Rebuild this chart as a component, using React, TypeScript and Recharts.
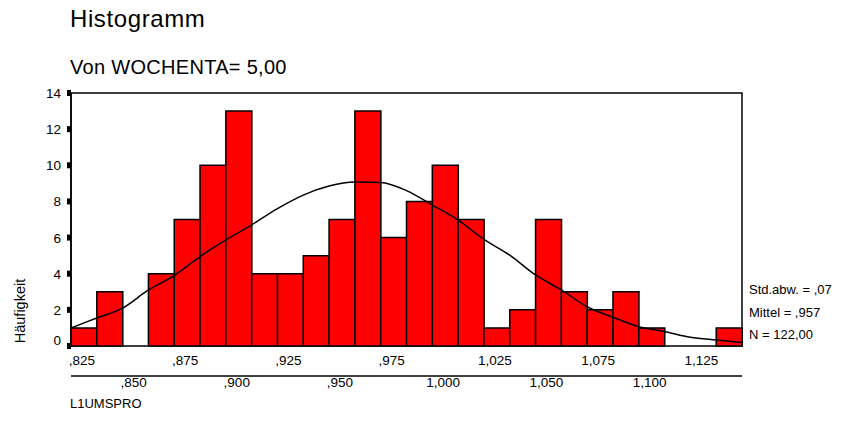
import React from "react";
import {
  ComposedChart, Bar, Line, XAxis, YAxis, ReferenceArea,
} from "recharts";

// histogram bins (centres) and counts
const binCenters = [
  0.825, 0.8375, 0.85, 0.8625, 0.875, 0.8875, 0.9, 0.9125, 0.925, 0.9375,
  0.95, 0.9625, 0.975, 0.9875, 1.0, 1.0125, 1.025, 1.0375, 1.05, 1.0625,
  1.075, 1.0875, 1.1, 1.1125, 1.125, 1.1375,
];
const counts = [
  1, 3, 0, 4, 7, 10, 13, 4, 4, 5,
  7, 13, 6, 8, 10, 7, 1, 2, 7, 3,
  2, 3, 1, 0, 0, 1,
];

// normal curve, sampled at the bin edges
const curveX = [
  0.81875, 0.83125, 0.84375, 0.85625, 0.86875, 0.88125, 0.89375, 0.90625,
  0.91875, 0.93125, 0.94375, 0.95625, 0.96875, 0.98125, 0.99375, 1.00625,
  1.01875, 1.03125, 1.04375, 1.05625, 1.06875, 1.08125, 1.09375, 1.10625,
  1.11875, 1.13125, 1.14375,
];
const curveY = [
  1.0, 1.55, 2.1, 3.1, 3.9, 4.95, 5.87, 6.7,
  7.6, 8.35, 8.85, 9.07, 9.05, 8.6, 7.8, 6.97,
  5.9, 5.03, 3.93, 3.1, 2.17, 1.59, 1.07, 0.8,
  0.48, 0.33, 0.2,
];

const xTicks = [
  0.825, 0.85, 0.875, 0.9, 0.925, 0.95, 0.975, 1.0,
  1.025, 1.05, 1.075, 1.1, 1.125,
];
const yTicks = [0, 2, 4, 6, 8, 10, 12, 14];
const statLines = ["Std.abw. = ,07", "Mittel = ,957", "N = 122,00"];

const FONT = "'Liberation Sans', Arial, sans-serif";
const X_MIN = 0.81875;
const X_MAX = 1.14375;

const binData = binCenters.map((b, i) => ({ bin: b, count: counts[i] }));
const curveData = curveX.map((x, i) => ({ x, y: curveY[i] }));

const fmt = (v: number) => v.toFixed(3).replace(".", ",").replace(/^0/, "");

// labels alternate between two rows under the axis
const XTick = (props: any) => {
  const { x, payload } = props;
  const row = Math.round((payload.value - 0.825) / 0.025) % 2;
  return (
    <text
      x={x - 2}
      y={row === 0 ? 365 : 387}
      textAnchor="middle"
      fontFamily={FONT}
      fontSize={13.5}
      fill="#000"
    >
      {fmt(payload.value)}
    </text>
  );
};

const YTick = (props: any) => {
  const { x, y, payload } = props;
  return (
    <g>
      <rect x={x + 5} y={y - 3} width={4} height={6} fill="#000" />
      <text
        x={x - 1}
        y={y + (payload.value === 0 ? -1 : 5)}
        textAnchor="end"
        fontFamily={FONT}
        fontSize={13.5}
        fill="#000"
      >
        {payload.value}
      </text>
    </g>
  );
};

export default function App() {
  return (
    <div style={{ position: "absolute", left: 0, top: 0, width: 845, height: 440, background: "#fff" }}>
      <ComposedChart
        width={845}
        height={440}
        data={binData}
        margin={{ top: 93, right: 103, bottom: 44, left: 31 }}
        barCategoryGap={0}
        barGap={0}
      >
        <XAxis xAxisId="bins" dataKey="bin" type="category" hide />
        <XAxis
          xAxisId="val"
          dataKey="x"
          type="number"
          domain={[X_MIN, X_MAX]}
          allowDataOverflow
          ticks={xTicks}
          interval={0}
          height={50}
          tickSize={0}
          tickMargin={0}
          tickLine={false}
          axisLine={{ stroke: "#000", strokeWidth: 1.5 }}
          tick={<XTick />}
        />
        <YAxis
          type="number"
          domain={[0, 14]}
          ticks={yTicks}
          interval={0}
          width={40}
          tickSize={0}
          tickMargin={9}
          tickLine={false}
          axisLine={{ stroke: "#000", strokeWidth: 1.5 }}
          tick={<YTick />}
        />
        <Bar
          xAxisId="bins"
          dataKey="count"
          fill="#ff0000"
          stroke="#000"
          strokeWidth={1.5}
          isAnimationActive={false}
        />
        <Line
          xAxisId="val"
          data={curveData}
          dataKey="y"
          type="monotone"
          stroke="#000"
          strokeWidth={1.5}
          dot={false}
          activeDot={false}
          isAnimationActive={false}
        />
        <ReferenceArea
          xAxisId="val"
          x1={X_MIN}
          x2={X_MAX}
          y1={0}
          y2={14}
          fill="none"
          fillOpacity={0}
          stroke="#000"
          strokeWidth={1.5}
          ifOverflow="visible"
        />
      </ComposedChart>
      <svg
        width={845}
        height={440}
        style={{ position: "absolute", left: 0, top: 0, pointerEvents: "none" }}
        fontFamily={FONT}
      >
        <text x={70} y={27} fontSize={24} letterSpacing={0.6} fill="#000">Histogramm</text>
        <text x={70} y={74} fontSize={20} letterSpacing={0.3} fill="#000">Von WOCHENTA= 5,00</text>
        <text
          x={25}
          y={311}
          fontSize={14.5}
          fill="#000"
          textAnchor="middle"
          transform="rotate(-90 25 311)"
        >
          Häufigkeit
        </text>
        {statLines.map((s, i) => (
          <text key={s} x={749} y={294 + i * 22.5} fontSize={13} fill="#000">{s}</text>
        ))}
        <text x={70} y={408} fontSize={13} fill="#000">L1UMSPRO</text>
      </svg>
    </div>
  );
}
